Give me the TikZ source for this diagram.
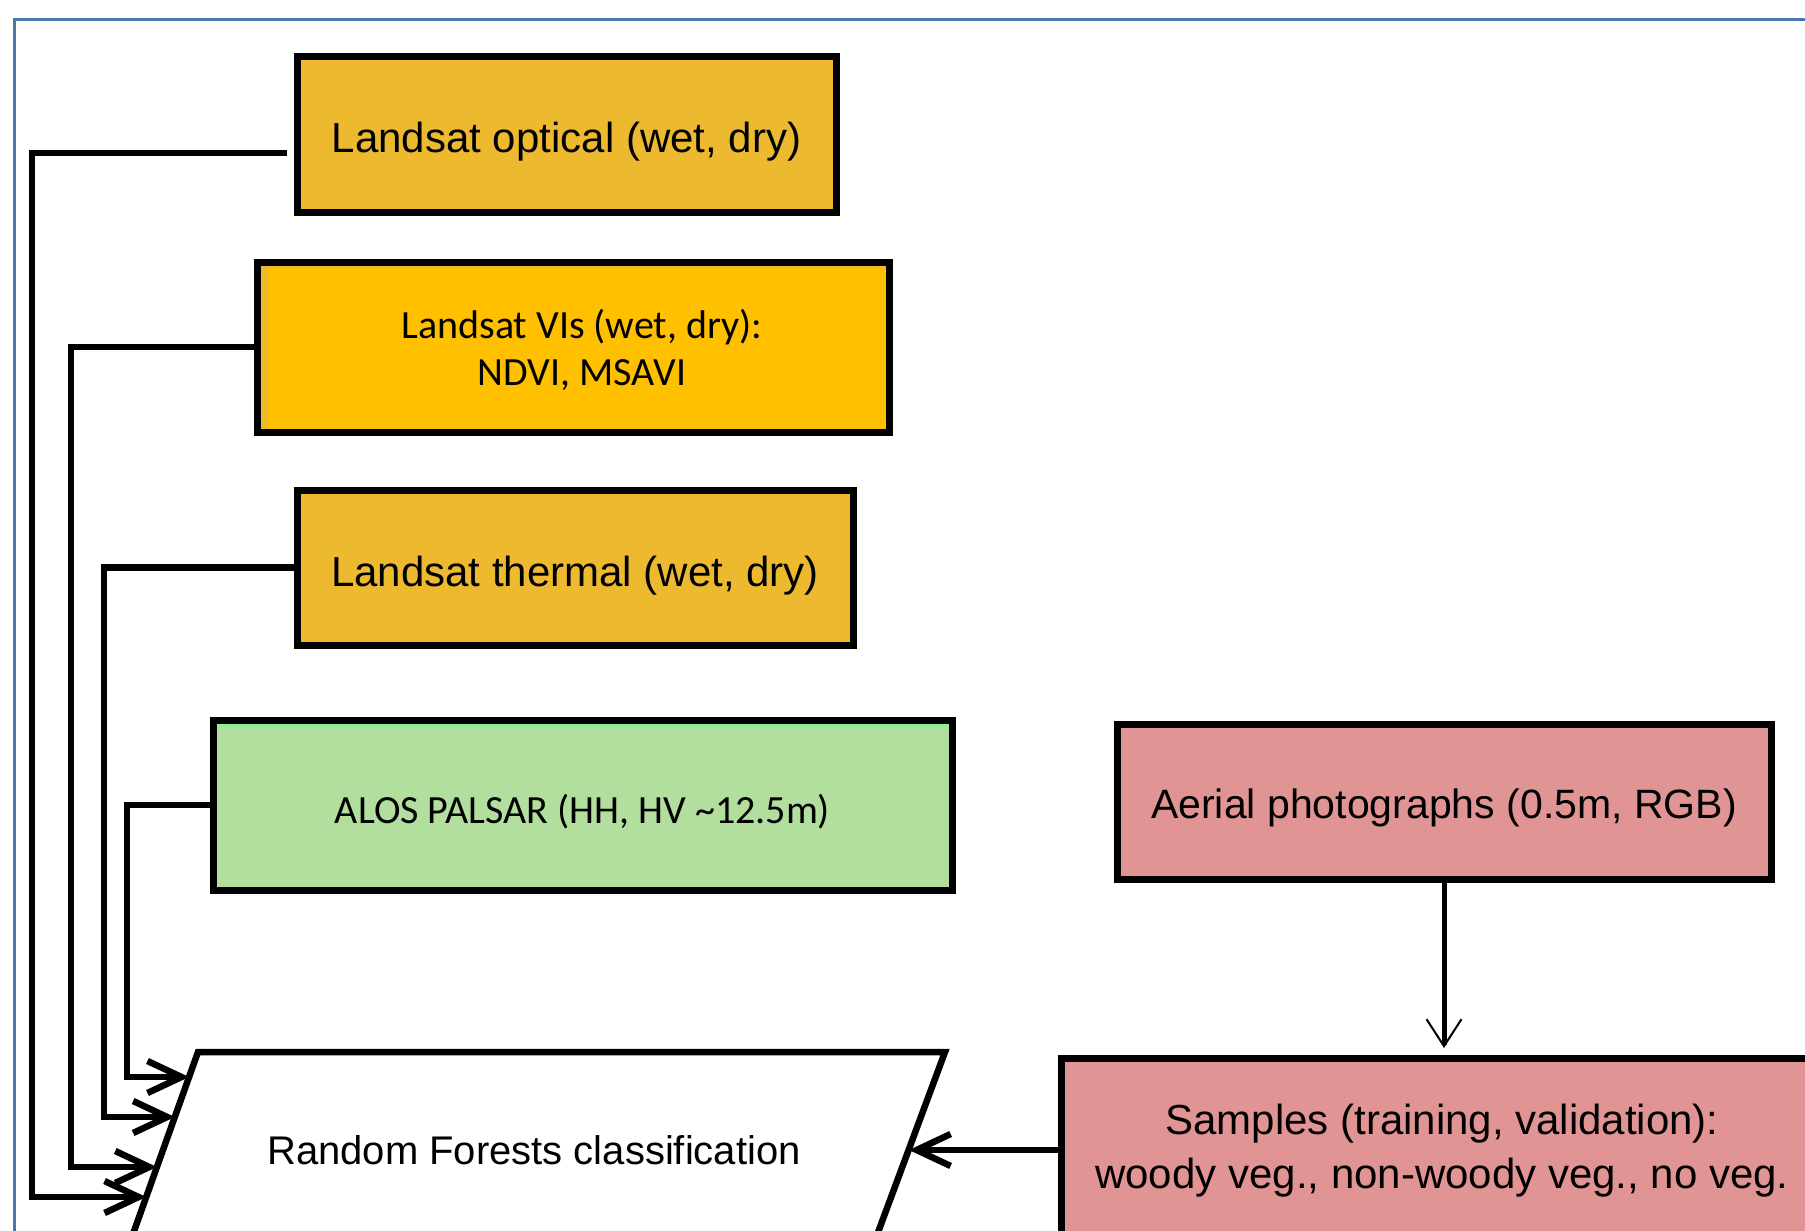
\documentclass[tikz,border=0pt]{standalone}
\usepackage{fontspec}
\setmainfont{Liberation Sans}
\newfontfamily\calib{Carlito}
\usetikzlibrary{arrows.meta,calc}
\definecolor{gold}{RGB}{237,185,47}
\definecolor{amber}{RGB}{255,192,0}
\definecolor{sage}{RGB}{178,222,158}
\definecolor{lgreen}{RGB}{144,236,144}
\definecolor{rose}{RGB}{224,148,148}
\definecolor{frameblue}{RGB}{74,118,168}
\newcommand\lowtxt[2]{\raisebox{-#1pt}[\height][\depth]{#2}}
\begin{document}
\begin{tikzpicture}[x=1pt,y=-1pt,
  box/.style={draw=black, line width=7pt, inner sep=0pt, outer sep=0pt, anchor=north west, align=center},
  tah/.style={font=\fontsize{42}{54}\selectfont},
  cal/.style={font=\calib\fontsize{40}{47}\selectfont},
  conn/.style={line width=6.5pt, line join=miter},
  barb/.style={-{Straight Barb[length=34pt,width=32pt]}},
]
\clip (0,0) rectangle (1805,1231);
\fill[white] (0,0) rectangle (1805,1231);
\draw[frameblue, line width=3pt] (14,1300) -- (14,20) -- (1900,20);

% boxes
\node[box, tah, fill=gold, minimum width=539pt, minimum height=155pt] (opt) at (297,57) {\lowtxt{7}{Landsat optical (wet, dry)}};

\fill[gold] (257,262) rectangle (889,432);
\fill[amber] (267,268) rectangle (889,432);
\node[box, cal, minimum width=632pt, minimum height=170pt] (vis) at (257,262)
  {\lowtxt{6}{\hspace*{18pt}\begin{tabular}{@{}c@{}}Landsat VIs (wet, dry):\\NDVI, MSAVI\end{tabular}}};

\node[box, tah, fill=gold, minimum width=556pt, minimum height=155pt] (thm) at (297,490) {\lowtxt{8}{Landsat thermal (wet, dry)}};

\fill[sage] (213,720) rectangle (952,890);
\fill[lgreen] (213,720) rectangle (952,727);
\node[box, cal, minimum width=739pt, minimum height=170pt] (alos) at (213,720) {\lowtxt{7}{ALOS PALSAR (HH, HV \textasciitilde12.5m)}};

\node[box, tah, font=\fontsize{41}{50}\selectfont, fill=rose, minimum width=654pt, minimum height=155pt] (aer) at (1117,724) {\lowtxt{6}{Aerial photographs (0.5m, RGB)}};

\node[box, tah, fill=rose, minimum width=762pt, minimum height=184pt] (smp) at (1061,1058)
  {\lowtxt{1}{\begin{tabular}{@{}c@{}}Samples (training, validation):\\woody veg., non-woody veg., no veg.\end{tabular}}};

% parallelogram
\coordinate (pTL) at (198,1052);
\coordinate (pTR) at (945,1052);
\coordinate (pBR) at (867,1262);
\coordinate (pBL) at (123,1262);
\draw[line width=6.5pt, line join=miter] (pBL) -- (pTL) -- (pTR) -- (pBR);
\node[font=\fontsize{40}{48}\selectfont] (rf) at (534,1150) {Random Forests classification};

% arrow tips on the parallelogram
\coordinate (t1) at (146.2,1197);
\coordinate (t2) at (156.9,1167);
\coordinate (t3) at (174.8,1117);
\coordinate (t4) at (189.1,1077);
\coordinate (tS) at (909,1150);
\coordinate (c1) at ([shift={(-10,18.5)}]opt.west);

\draw[conn,barb] (c1) -- (32,153) |- (t1);
\draw[conn,barb] (vis.west) -- (71,347) |- (t2);
\draw[conn,barb] (thm.west) -- (104,567.5) |- (t3);
\draw[conn,barb] (alos.west) -- (127,805) |- (t4);
\draw[conn,barb] (smp.west) -- (tS);
\draw[line width=5pt, shorten >=10pt, -{Straight Barb[length=27pt,width=35pt,line width=2pt]}] (aer.south) -- (aer.south |- smp.north);
\end{tikzpicture}
\end{document}
